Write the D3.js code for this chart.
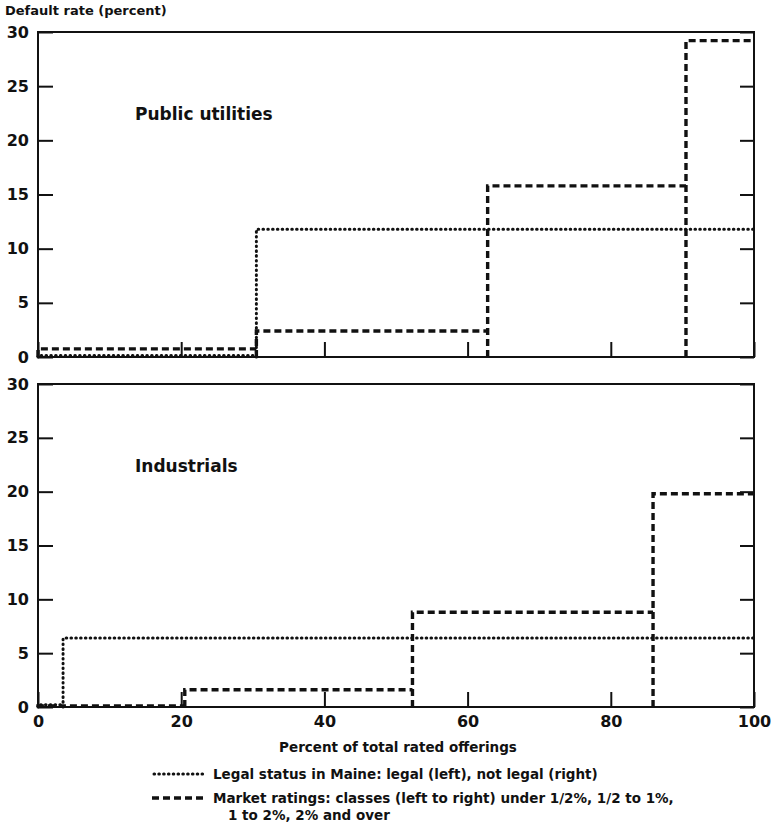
<!DOCTYPE html>
<html>
<head>
<meta charset="utf-8">
<script src="https://cdn.jsdelivr.net/npm/d3@7"></script>
<style>
  body { margin: 0; background: #fff; }
  text { font-family: "DejaVu Sans", sans-serif; font-weight: bold; fill: #111; }
</style>
</head>
<body>
<svg id="chart" width="772" height="828"></svg>
<script>
// step edges (percent of total rated offerings) and default rates
var puLegalX = [0, 30.5, 100];
var puLegalY = [0.15, 11.8];
var puRatingX = [0, 30.5, 62.8, 90.5, 100];
var puRatingY = [0.75, 2.4, 15.8, 29.2];

var indLegalX = [0, 3.5, 100];
var indLegalY = [0.2, 6.4];
var indRatingX = [0, 20.5, 52.3, 85.9, 100];
var indRatingY = [0.1, 1.6, 8.8, 19.8];

var yTicks = [0, 5, 10, 15, 20, 25, 30];
var xTicks = [0, 20, 40, 60, 80, 100];

var svg = d3.select('#chart');
var left = 38, right = 754;

var x = d3.scaleLinear().domain([0, 100]).range([left, right]);

var dotStyle = {width: 3, dash: '0.6 4.2'};
var dashStyle = {width: 3.4, dash: '7 4'};

svg.append('text')
   .attr('x', 5).attr('y', 15)
   .style('font-size', '13px')
   .text('Default rate (percent)');

function drawPanel(top, bottom, title, legalX, legalY, ratingX, ratingY, showXLabels){
  var y = d3.scaleLinear().domain([0, 30]).range([bottom, top]);
  var g = svg.append('g');

  // left axis with labels, ticks pointing in
  var ay = g.append('g')
    .attr('transform', 'translate(' + left + ',0)')
    .call(d3.axisLeft(y).tickValues(yTicks).tickSize(-15).tickPadding(9));
  ay.select('.domain').remove();
  ay.selectAll('line').style('stroke', '#111').style('stroke-width', 2);
  ay.selectAll('text').style('font-size', '16px').attr('fill', '#111');

  var ar = g.append('g')
    .attr('transform', 'translate(' + right + ',0)')
    .call(d3.axisRight(y).tickValues(yTicks).tickSize(-14).tickFormat(''));
  ar.select('.domain').remove();
  ar.selectAll('line').style('stroke', '#111').style('stroke-width', 2);

  var ax = g.append('g')
    .attr('transform', 'translate(0,' + bottom + ')')
    .call(d3.axisBottom(x).tickValues(xTicks).tickSize(-15).tickPadding(9)
      .tickFormat(showXLabels ? d3.format('d') : ''));
  ax.select('.domain').remove();
  ax.selectAll('line').style('stroke', '#111').style('stroke-width', 2);
  ax.selectAll('text').style('font-size', '16px').attr('fill', '#111');

  // frame
  g.append('rect')
   .attr('x', left).attr('y', top)
   .attr('width', right - left).attr('height', bottom - top)
   .style('fill', 'none').style('stroke', '#111').style('stroke-width', 2);

  g.append('text')
   .attr('x', 135).attr('y', top + 88)
   .style('font-size', '17px')
   .text(title);

  // each class drawn as a bar outline: up from the axis, across
  function stepPath(xs, ys){
    var p = d3.path();
    for(var i = 0; i < ys.length; i ++){
      p.moveTo(x(xs[i]), y(0));
      p.lineTo(x(xs[i]), y(ys[i]));
      p.lineTo(x(xs[i + 1]), y(ys[i]));
    }
    return p.toString();
  }

  g.append('path')
   .attr('d', stepPath(legalX, legalY))
   .style('fill', 'none')
   .style('stroke', '#111')
   .style('stroke-width', dotStyle.width)
   .style('stroke-linecap', 'round')
   .style('stroke-dasharray', dotStyle.dash);

  g.append('path')
   .attr('d', stepPath(ratingX, ratingY))
   .style('fill', 'none')
   .style('stroke', '#111')
   .style('stroke-width', dashStyle.width)
   .style('stroke-dasharray', dashStyle.dash);
}

drawPanel(32, 357, 'Public utilities', puLegalX, puLegalY, puRatingX, puRatingY, false);
drawPanel(384, 707, 'Industrials', indLegalX, indLegalY, indRatingX, indRatingY, true);

svg.append('text')
   .attr('x', (left + right) / 2 + 2).attr('y', 752)
   .attr('text-anchor', 'middle')
   .style('font-size', '13.5px')
   .text('Percent of total rated offerings');

// legend
svg.append('line')
   .attr('x1', 154).attr('x2', 205).attr('y1', 774).attr('y2', 774)
   .style('stroke', '#111').style('stroke-width', dotStyle.width)
   .style('stroke-linecap', 'round').style('stroke-dasharray', dotStyle.dash);
svg.append('line')
   .attr('x1', 152).attr('x2', 206).attr('y1', 798).attr('y2', 798)
   .style('stroke', '#111').style('stroke-width', dashStyle.width)
   .style('stroke-dasharray', dashStyle.dash);

svg.append('text').attr('x', 213).attr('y', 779).style('font-size', '13.5px')
   .text('Legal status in Maine: legal (left), not legal (right)');
svg.append('text').attr('x', 213).attr('y', 803).style('font-size', '13.5px')
   .text('Market ratings: classes (left to right) under 1/2%, 1/2 to 1%,');
svg.append('text').attr('x', 228).attr('y', 820).style('font-size', '13.5px')
   .text('1 to 2%, 2% and over');
</script>
</body>
</html>
